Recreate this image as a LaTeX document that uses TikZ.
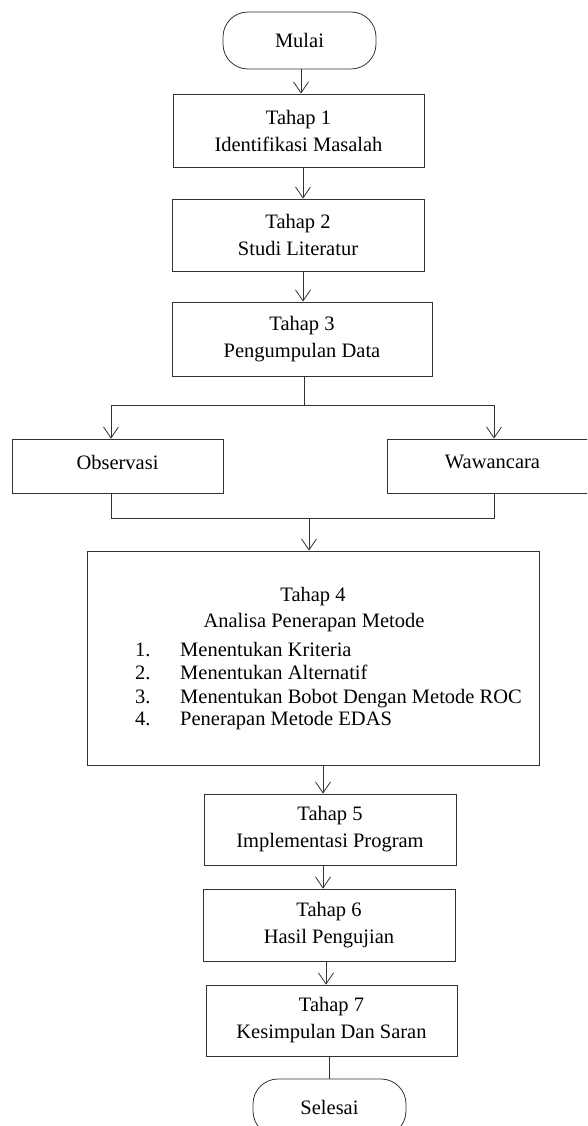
\documentclass[tikz,border=0pt]{standalone}
\usepackage{fontspec}
\setmainfont{Liberation Serif}
\usetikzlibrary{arrows.meta}
\tikzset{
  line/.style={draw=black!80, line width=0.8pt},
  arr/.style={line, -{Straight Barb[length=11pt,width=15pt,line width=0.8pt]}},
  stepbox/.style={line, rectangle, inner sep=0pt, align=center, text=black,
    font=\fontsize{20.5}{27}\selectfont},
  term/.style={stepbox, rounded corners=25pt},
  txt/.style={inner sep=0pt, text=black, font=\fontsize{20.5}{27}\selectfont},
}
\begin{document}
\begin{tikzpicture}[x=1pt,y=-1pt]
\useasboundingbox (0,0) rectangle (587,1126);
\clip (0,0) rectangle (587,1126);
% nodes
\node[term, minimum width=153, minimum height=57] (m) at (299.5,40.5) {Mulai};
\node[stepbox, minimum width=251, minimum height=73] (t1) at (298.5,130.5) {Tahap 1\\Identifikasi Masalah};
\node[stepbox, minimum width=252, minimum height=72] (t2) at (298,235) {Tahap 2\\Studi Literatur};
\node[stepbox, minimum width=260, minimum height=74] (t3) at (302,339) {Tahap 3\\Pengumpulan Data};
\node[stepbox, minimum width=211, minimum height=54, text depth=8pt] (obs) at (117.5,466) {Observasi};
\node[stepbox, minimum width=211, minimum height=54, text depth=8pt] (waw) at (492.5,466) {Wawancara};
\node[stepbox, minimum width=452, minimum height=214] (t4) at (313,658) {};
\node[txt, anchor=base] (t4a) at (313,601) {Tahap 4};
\node[txt, anchor=base] (t4b) at (314,627) {Analisa Penerapan Metode};
\node[txt, anchor=base west] (n1) at (135,656) {1.};
\node[txt, anchor=base west] (i1) at (180,656) {Menentukan Kriteria};
\node[txt, anchor=base west] (n2) at (135,679) {2.};
\node[txt, anchor=base west] (i2) at (180,679) {Menentukan Alternatif};
\node[txt, anchor=base west] (n3) at (135,703) {3.};
\node[txt, anchor=base west] (i3) at (180,703) {Menentukan Bobot Dengan Metode ROC};
\node[txt, anchor=base west] (n4) at (135,725) {4.};
\node[txt, anchor=base west] (i4) at (180,725) {Penerapan Metode EDAS};
\node[stepbox, minimum width=252, minimum height=71] (t5) at (330,829.5) {Tahap 5\\Implementasi Program};
\node[stepbox, minimum width=252, minimum height=72] (t6) at (329,925) {Tahap 6\\Hasil Pengujian};
\node[stepbox, minimum width=251, minimum height=71] (t7) at (331.5,1020.5) {Tahap 7\\Kesimpulan Dan Saran};
\node[term, minimum width=153, minimum height=57] (sel) at (329.5,1107.5) {Selesai};
% helper coordinates
\coordinate (c1) at (301,69);
\coordinate (c2) at (303,167);
\coordinate (c3) at (303,271);
\coordinate (c4) at (304,376);
\coordinate (sm) at (304,405);
\coordinate (sl) at (111,405);
\coordinate (sr) at (494,405);
\coordinate (jl0) at (111,493);
\coordinate (jr0) at (494,493);
\coordinate (jl) at (111,518);
\coordinate (jr) at (494,518);
\coordinate (jm) at (309,518);
\coordinate (c5) at (323,765);
\coordinate (c6) at (323,865);
\coordinate (c7) at (326,961);
\coordinate (c8) at (329,1056);
% connectors
\draw[arr] (c1) -- (c1 |- t1.north);
\draw[arr] (c2) -- (c2 |- t2.north);
\draw[arr] (c3) -- (c3 |- t3.north);
\draw[line] (c4) -- (sm);
\draw[line] (sl) -- (sr);
\draw[arr] (sl) -- (sl |- obs.north);
\draw[arr] (sr) -- (sr |- waw.north);
\draw[line] (jl0) -- (jl) -- (jr) -- (jr0);
\draw[arr] (jm) -- (jm |- t4.north);
\draw[arr] (c5) -- (c5 |- t5.north);
\draw[arr] (c6) -- (c6 |- t6.north);
\draw[arr] (c7) -- (c7 |- t7.north);
\draw[line] (c8) -- (c8 |- sel.north);
\end{tikzpicture}
\end{document}
